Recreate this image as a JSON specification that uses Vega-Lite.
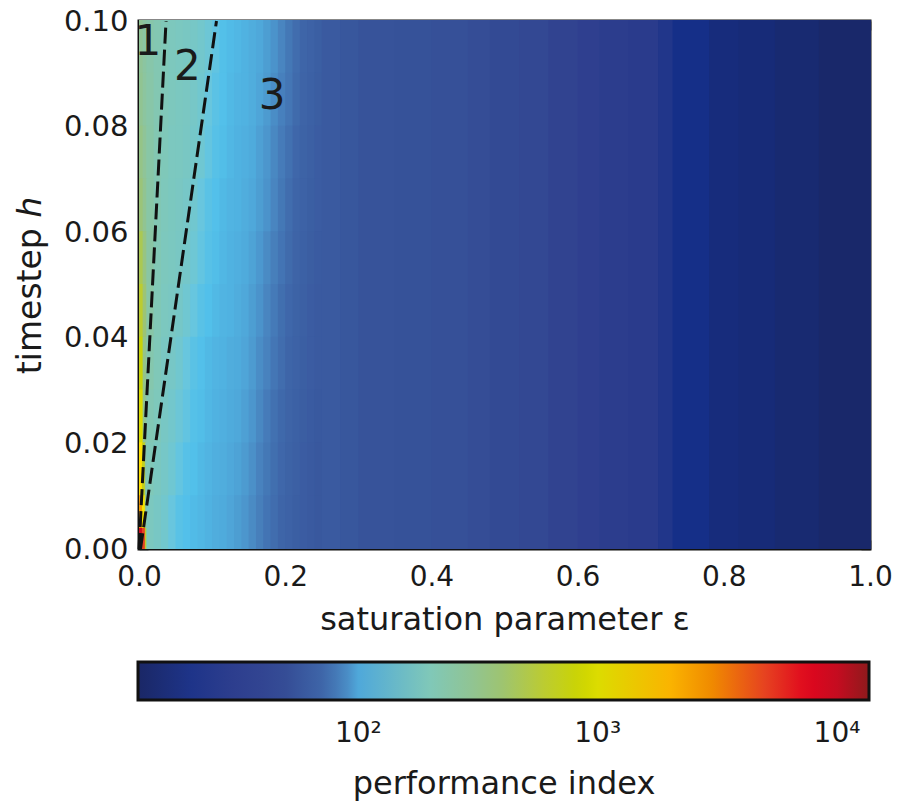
{
 "$schema": "https://vega.github.io/schema/vega-lite/v6.json",
 "width": 731, "height": 528,
 "autosize": {"type": "none"},
 "padding": {"left": 139, "top": 21, "right": 29, "bottom": 256},
 "background": "white",
 "config": {
  "font": "DejaVu Sans",
  "view": {"stroke": "#111111", "strokeWidth": 3},
  "axis": {"domain": false, "grid": false, "tickColor": "#111111", "tickWidth": 1.5, "tickSize": -9, "labelColor": "#1a1a1a", "titleColor": "#1a1a1a", "labelFontSize": 28, "titleFontSize": 32, "titleFontWeight": "normal", "labelFont": "DejaVu Sans", "titleFont": "DejaVu Sans"},
  "legend": {"orient": "none", "legendX": -1, "legendY": 641, "direction": "horizontal", "gradientLength": 731, "gradientThickness": 38, "gradientStrokeColor": "#111111", "gradientStrokeWidth": 3, "labelFontSize": 28, "labelColor": "#1a1a1a", "labelOverlap": false, "labelLimit": 0, "titleLimit": 0, "titleOrient": "bottom", "titleAnchor": "middle", "titleFontSize": 32, "titleFontWeight": "normal", "titleColor": "#1a1a1a", "titlePadding": 21}
 },
 "datasets": {
  "heat": [
   {"e0":0,"e1":0.005,"h0":0.09,"h1":0.1,"v":290},{"e0":0.005,"e1":0.01,"h0":0.09,"h1":0.1,"v":260},{"e0":0.01,"e1":0.02,"h0":0.09,"h1":0.1,"v":235},{"e0":0.02,"e1":0.03,"h0":0.09,"h1":0.1,"v":215},{"e0":0.03,"e1":0.04,"h0":0.09,"h1":0.1,"v":200},{"e0":0.04,"e1":0.05,"h0":0.09,"h1":0.1,"v":192},{"e0":0.05,"e1":0.06,"h0":0.09,"h1":0.1,"v":188},{"e0":0.06,"e1":0.07,"h0":0.09,"h1":0.1,"v":185},{"e0":0.07,"e1":0.08,"h0":0.09,"h1":0.1,"v":180},{"e0":0.08,"e1":0.09,"h0":0.09,"h1":0.1,"v":172},{"e0":0.09,"e1":0.1,"h0":0.09,"h1":0.1,"v":160},{"e0":0.1,"e1":0.11,"h0":0.09,"h1":0.1,"v":135},{"e0":0.11,"e1":0.12,"h0":0.09,"h1":0.1,"v":112},{"e0":0.12,"e1":0.13,"h0":0.09,"h1":0.1,"v":108},{"e0":0.13,"e1":0.14,"h0":0.09,"h1":0.1,"v":106},{"e0":0.14,"e1":0.15,"h0":0.09,"h1":0.1,"v":104},{"e0":0.15,"e1":0.16,"h0":0.09,"h1":0.1,"v":102},{"e0":0.16,"e1":0.17,"h0":0.09,"h1":0.1,"v":100},{"e0":0.17,"e1":0.18,"h0":0.09,"h1":0.1,"v":96},{"e0":0.18,"e1":0.19,"h0":0.09,"h1":0.1,"v":92},{"e0":0.19,"e1":0.2,"h0":0.09,"h1":0.1,"v":87},{"e0":0.2,"e1":0.21,"h0":0.09,"h1":0.1,"v":80},{"e0":0.21,"e1":0.22,"h0":0.09,"h1":0.1,"v":74},{"e0":0.22,"e1":0.23,"h0":0.09,"h1":0.1,"v":70},{"e0":0.23,"e1":0.24,"h0":0.09,"h1":0.1,"v":67},{"e0":0.24,"e1":0.25,"h0":0.09,"h1":0.1,"v":64},

   {"e0":0,"e1":0.005,"h0":0.08,"h1":0.09,"v":300},{"e0":0.005,"e1":0.01,"h0":0.08,"h1":0.09,"v":265},{"e0":0.01,"e1":0.02,"h0":0.08,"h1":0.09,"v":240},{"e0":0.02,"e1":0.03,"h0":0.08,"h1":0.09,"v":215},{"e0":0.03,"e1":0.04,"h0":0.08,"h1":0.09,"v":200},{"e0":0.04,"e1":0.05,"h0":0.08,"h1":0.09,"v":192},{"e0":0.05,"e1":0.06,"h0":0.08,"h1":0.09,"v":188},{"e0":0.06,"e1":0.07,"h0":0.08,"h1":0.09,"v":186},{"e0":0.07,"e1":0.08,"h0":0.08,"h1":0.09,"v":179},{"e0":0.08,"e1":0.09,"h0":0.08,"h1":0.09,"v":168},{"e0":0.09,"e1":0.1,"h0":0.08,"h1":0.09,"v":150},{"e0":0.1,"e1":0.11,"h0":0.08,"h1":0.09,"v":125},{"e0":0.11,"e1":0.12,"h0":0.08,"h1":0.09,"v":111},{"e0":0.12,"e1":0.13,"h0":0.08,"h1":0.09,"v":107},{"e0":0.13,"e1":0.14,"h0":0.08,"h1":0.09,"v":105},{"e0":0.14,"e1":0.15,"h0":0.08,"h1":0.09,"v":104},{"e0":0.15,"e1":0.16,"h0":0.08,"h1":0.09,"v":102},{"e0":0.16,"e1":0.17,"h0":0.08,"h1":0.09,"v":99},{"e0":0.17,"e1":0.18,"h0":0.08,"h1":0.09,"v":95},{"e0":0.18,"e1":0.19,"h0":0.08,"h1":0.09,"v":90},{"e0":0.19,"e1":0.2,"h0":0.08,"h1":0.09,"v":85},{"e0":0.2,"e1":0.21,"h0":0.08,"h1":0.09,"v":79},{"e0":0.21,"e1":0.22,"h0":0.08,"h1":0.09,"v":73},{"e0":0.22,"e1":0.23,"h0":0.08,"h1":0.09,"v":69},{"e0":0.23,"e1":0.24,"h0":0.08,"h1":0.09,"v":66},{"e0":0.24,"e1":0.25,"h0":0.08,"h1":0.09,"v":63},

   {"e0":0,"e1":0.005,"h0":0.07,"h1":0.08,"v":330},{"e0":0.005,"e1":0.01,"h0":0.07,"h1":0.08,"v":285},{"e0":0.01,"e1":0.02,"h0":0.07,"h1":0.08,"v":245},{"e0":0.02,"e1":0.03,"h0":0.07,"h1":0.08,"v":215},{"e0":0.03,"e1":0.04,"h0":0.07,"h1":0.08,"v":198},{"e0":0.04,"e1":0.05,"h0":0.07,"h1":0.08,"v":190},{"e0":0.05,"e1":0.06,"h0":0.07,"h1":0.08,"v":188},{"e0":0.06,"e1":0.07,"h0":0.07,"h1":0.08,"v":184},{"e0":0.07,"e1":0.08,"h0":0.07,"h1":0.08,"v":176},{"e0":0.08,"e1":0.09,"h0":0.07,"h1":0.08,"v":164},{"e0":0.09,"e1":0.1,"h0":0.07,"h1":0.08,"v":142},{"e0":0.1,"e1":0.11,"h0":0.07,"h1":0.08,"v":118},{"e0":0.11,"e1":0.12,"h0":0.07,"h1":0.08,"v":109},{"e0":0.12,"e1":0.13,"h0":0.07,"h1":0.08,"v":106},{"e0":0.13,"e1":0.14,"h0":0.07,"h1":0.08,"v":104},{"e0":0.14,"e1":0.15,"h0":0.07,"h1":0.08,"v":103},{"e0":0.15,"e1":0.16,"h0":0.07,"h1":0.08,"v":101},{"e0":0.16,"e1":0.17,"h0":0.07,"h1":0.08,"v":97},{"e0":0.17,"e1":0.18,"h0":0.07,"h1":0.08,"v":93},{"e0":0.18,"e1":0.19,"h0":0.07,"h1":0.08,"v":88},{"e0":0.19,"e1":0.2,"h0":0.07,"h1":0.08,"v":82},{"e0":0.2,"e1":0.21,"h0":0.07,"h1":0.08,"v":76},{"e0":0.21,"e1":0.22,"h0":0.07,"h1":0.08,"v":71},{"e0":0.22,"e1":0.23,"h0":0.07,"h1":0.08,"v":68},{"e0":0.23,"e1":0.24,"h0":0.07,"h1":0.08,"v":65},{"e0":0.24,"e1":0.25,"h0":0.07,"h1":0.08,"v":62},

   {"e0":0,"e1":0.005,"h0":0.06,"h1":0.07,"v":370},{"e0":0.005,"e1":0.01,"h0":0.06,"h1":0.07,"v":300},{"e0":0.01,"e1":0.02,"h0":0.06,"h1":0.07,"v":245},{"e0":0.02,"e1":0.03,"h0":0.06,"h1":0.07,"v":212},{"e0":0.03,"e1":0.04,"h0":0.06,"h1":0.07,"v":196},{"e0":0.04,"e1":0.05,"h0":0.06,"h1":0.07,"v":189},{"e0":0.05,"e1":0.06,"h0":0.06,"h1":0.07,"v":186},{"e0":0.06,"e1":0.07,"h0":0.06,"h1":0.07,"v":179},{"e0":0.07,"e1":0.08,"h0":0.06,"h1":0.07,"v":168},{"e0":0.08,"e1":0.09,"h0":0.06,"h1":0.07,"v":150},{"e0":0.09,"e1":0.1,"h0":0.06,"h1":0.07,"v":124},{"e0":0.1,"e1":0.11,"h0":0.06,"h1":0.07,"v":111},{"e0":0.11,"e1":0.12,"h0":0.06,"h1":0.07,"v":107},{"e0":0.12,"e1":0.13,"h0":0.06,"h1":0.07,"v":105},{"e0":0.13,"e1":0.14,"h0":0.06,"h1":0.07,"v":104},{"e0":0.14,"e1":0.15,"h0":0.06,"h1":0.07,"v":102},{"e0":0.15,"e1":0.16,"h0":0.06,"h1":0.07,"v":100},{"e0":0.16,"e1":0.17,"h0":0.06,"h1":0.07,"v":96},{"e0":0.17,"e1":0.18,"h0":0.06,"h1":0.07,"v":92},{"e0":0.18,"e1":0.19,"h0":0.06,"h1":0.07,"v":87},{"e0":0.19,"e1":0.2,"h0":0.06,"h1":0.07,"v":80},{"e0":0.2,"e1":0.21,"h0":0.06,"h1":0.07,"v":74},{"e0":0.21,"e1":0.22,"h0":0.06,"h1":0.07,"v":70},{"e0":0.22,"e1":0.23,"h0":0.06,"h1":0.07,"v":67},{"e0":0.23,"e1":0.24,"h0":0.06,"h1":0.07,"v":64},{"e0":0.24,"e1":0.25,"h0":0.06,"h1":0.07,"v":62},

   {"e0":0,"e1":0.005,"h0":0.05,"h1":0.06,"v":480},{"e0":0.005,"e1":0.01,"h0":0.05,"h1":0.06,"v":340},{"e0":0.01,"e1":0.02,"h0":0.05,"h1":0.06,"v":250},{"e0":0.02,"e1":0.03,"h0":0.05,"h1":0.06,"v":208},{"e0":0.03,"e1":0.04,"h0":0.05,"h1":0.06,"v":193},{"e0":0.04,"e1":0.05,"h0":0.05,"h1":0.06,"v":188},{"e0":0.05,"e1":0.06,"h0":0.05,"h1":0.06,"v":184},{"e0":0.06,"e1":0.07,"h0":0.05,"h1":0.06,"v":176},{"e0":0.07,"e1":0.08,"h0":0.05,"h1":0.06,"v":162},{"e0":0.08,"e1":0.09,"h0":0.05,"h1":0.06,"v":140},{"e0":0.09,"e1":0.1,"h0":0.05,"h1":0.06,"v":118},{"e0":0.1,"e1":0.11,"h0":0.05,"h1":0.06,"v":109},{"e0":0.11,"e1":0.12,"h0":0.05,"h1":0.06,"v":106},{"e0":0.12,"e1":0.13,"h0":0.05,"h1":0.06,"v":104},{"e0":0.13,"e1":0.14,"h0":0.05,"h1":0.06,"v":103},{"e0":0.14,"e1":0.15,"h0":0.05,"h1":0.06,"v":101},{"e0":0.15,"e1":0.16,"h0":0.05,"h1":0.06,"v":98},{"e0":0.16,"e1":0.17,"h0":0.05,"h1":0.06,"v":94},{"e0":0.17,"e1":0.18,"h0":0.05,"h1":0.06,"v":89},{"e0":0.18,"e1":0.19,"h0":0.05,"h1":0.06,"v":84},{"e0":0.19,"e1":0.2,"h0":0.05,"h1":0.06,"v":78},{"e0":0.2,"e1":0.21,"h0":0.05,"h1":0.06,"v":73},{"e0":0.21,"e1":0.22,"h0":0.05,"h1":0.06,"v":69},{"e0":0.22,"e1":0.23,"h0":0.05,"h1":0.06,"v":66},{"e0":0.23,"e1":0.24,"h0":0.05,"h1":0.06,"v":63},{"e0":0.24,"e1":0.25,"h0":0.05,"h1":0.06,"v":61},

   {"e0":0,"e1":0.005,"h0":0.04,"h1":0.05,"v":600},{"e0":0.005,"e1":0.01,"h0":0.04,"h1":0.05,"v":380},{"e0":0.01,"e1":0.02,"h0":0.04,"h1":0.05,"v":245},{"e0":0.02,"e1":0.03,"h0":0.04,"h1":0.05,"v":205},{"e0":0.03,"e1":0.04,"h0":0.04,"h1":0.05,"v":190},{"e0":0.04,"e1":0.05,"h0":0.04,"h1":0.05,"v":186},{"e0":0.05,"e1":0.06,"h0":0.04,"h1":0.05,"v":178},{"e0":0.06,"e1":0.07,"h0":0.04,"h1":0.05,"v":166},{"e0":0.07,"e1":0.08,"h0":0.04,"h1":0.05,"v":148},{"e0":0.08,"e1":0.09,"h0":0.04,"h1":0.05,"v":122},{"e0":0.09,"e1":0.1,"h0":0.04,"h1":0.05,"v":110},{"e0":0.1,"e1":0.11,"h0":0.04,"h1":0.05,"v":107},{"e0":0.11,"e1":0.12,"h0":0.04,"h1":0.05,"v":105},{"e0":0.12,"e1":0.13,"h0":0.04,"h1":0.05,"v":104},{"e0":0.13,"e1":0.14,"h0":0.04,"h1":0.05,"v":102},{"e0":0.14,"e1":0.15,"h0":0.04,"h1":0.05,"v":100},{"e0":0.15,"e1":0.16,"h0":0.04,"h1":0.05,"v":96},{"e0":0.16,"e1":0.17,"h0":0.04,"h1":0.05,"v":92},{"e0":0.17,"e1":0.18,"h0":0.04,"h1":0.05,"v":87},{"e0":0.18,"e1":0.19,"h0":0.04,"h1":0.05,"v":81},{"e0":0.19,"e1":0.2,"h0":0.04,"h1":0.05,"v":75},{"e0":0.2,"e1":0.21,"h0":0.04,"h1":0.05,"v":71},{"e0":0.21,"e1":0.22,"h0":0.04,"h1":0.05,"v":68},{"e0":0.22,"e1":0.23,"h0":0.04,"h1":0.05,"v":65},{"e0":0.23,"e1":0.24,"h0":0.04,"h1":0.05,"v":62},{"e0":0.24,"e1":0.25,"h0":0.04,"h1":0.05,"v":60},

   {"e0":0,"e1":0.005,"h0":0.03,"h1":0.04,"v":800},{"e0":0.005,"e1":0.01,"h0":0.03,"h1":0.04,"v":320},{"e0":0.01,"e1":0.02,"h0":0.03,"h1":0.04,"v":225},{"e0":0.02,"e1":0.03,"h0":0.03,"h1":0.04,"v":200},{"e0":0.03,"e1":0.04,"h0":0.03,"h1":0.04,"v":186},{"e0":0.04,"e1":0.05,"h0":0.03,"h1":0.04,"v":180},{"e0":0.05,"e1":0.06,"h0":0.03,"h1":0.04,"v":168},{"e0":0.06,"e1":0.07,"h0":0.03,"h1":0.04,"v":150},{"e0":0.07,"e1":0.08,"h0":0.03,"h1":0.04,"v":124},{"e0":0.08,"e1":0.09,"h0":0.03,"h1":0.04,"v":111},{"e0":0.09,"e1":0.1,"h0":0.03,"h1":0.04,"v":107},{"e0":0.1,"e1":0.11,"h0":0.03,"h1":0.04,"v":105},{"e0":0.11,"e1":0.12,"h0":0.03,"h1":0.04,"v":104},{"e0":0.12,"e1":0.13,"h0":0.03,"h1":0.04,"v":102},{"e0":0.13,"e1":0.14,"h0":0.03,"h1":0.04,"v":101},{"e0":0.14,"e1":0.15,"h0":0.03,"h1":0.04,"v":99},{"e0":0.15,"e1":0.16,"h0":0.03,"h1":0.04,"v":95},{"e0":0.16,"e1":0.17,"h0":0.03,"h1":0.04,"v":90},{"e0":0.17,"e1":0.18,"h0":0.03,"h1":0.04,"v":86},{"e0":0.18,"e1":0.19,"h0":0.03,"h1":0.04,"v":79},{"e0":0.19,"e1":0.2,"h0":0.03,"h1":0.04,"v":74},{"e0":0.2,"e1":0.21,"h0":0.03,"h1":0.04,"v":70},{"e0":0.21,"e1":0.22,"h0":0.03,"h1":0.04,"v":67},{"e0":0.22,"e1":0.23,"h0":0.03,"h1":0.04,"v":64},{"e0":0.23,"e1":0.24,"h0":0.03,"h1":0.04,"v":62},{"e0":0.24,"e1":0.25,"h0":0.03,"h1":0.04,"v":60},

   {"e0":0,"e1":0.005,"h0":0.02,"h1":0.03,"v":1000},{"e0":0.005,"e1":0.01,"h0":0.02,"h1":0.03,"v":300},{"e0":0.01,"e1":0.02,"h0":0.02,"h1":0.03,"v":210},{"e0":0.02,"e1":0.03,"h0":0.02,"h1":0.03,"v":195},{"e0":0.03,"e1":0.04,"h0":0.02,"h1":0.03,"v":182},{"e0":0.04,"e1":0.05,"h0":0.02,"h1":0.03,"v":172},{"e0":0.05,"e1":0.06,"h0":0.02,"h1":0.03,"v":158},{"e0":0.06,"e1":0.07,"h0":0.02,"h1":0.03,"v":138},{"e0":0.07,"e1":0.08,"h0":0.02,"h1":0.03,"v":115},{"e0":0.08,"e1":0.09,"h0":0.02,"h1":0.03,"v":109},{"e0":0.09,"e1":0.1,"h0":0.02,"h1":0.03,"v":106},{"e0":0.1,"e1":0.11,"h0":0.02,"h1":0.03,"v":104},{"e0":0.11,"e1":0.12,"h0":0.02,"h1":0.03,"v":103},{"e0":0.12,"e1":0.13,"h0":0.02,"h1":0.03,"v":101},{"e0":0.13,"e1":0.14,"h0":0.02,"h1":0.03,"v":100},{"e0":0.14,"e1":0.15,"h0":0.02,"h1":0.03,"v":97},{"e0":0.15,"e1":0.16,"h0":0.02,"h1":0.03,"v":93},{"e0":0.16,"e1":0.17,"h0":0.02,"h1":0.03,"v":88},{"e0":0.17,"e1":0.18,"h0":0.02,"h1":0.03,"v":82},{"e0":0.18,"e1":0.19,"h0":0.02,"h1":0.03,"v":76},{"e0":0.19,"e1":0.2,"h0":0.02,"h1":0.03,"v":72},{"e0":0.2,"e1":0.21,"h0":0.02,"h1":0.03,"v":69},{"e0":0.21,"e1":0.22,"h0":0.02,"h1":0.03,"v":66},{"e0":0.22,"e1":0.23,"h0":0.02,"h1":0.03,"v":63},{"e0":0.23,"e1":0.24,"h0":0.02,"h1":0.03,"v":61},{"e0":0.24,"e1":0.25,"h0":0.02,"h1":0.03,"v":59},

   {"e0":0,"e1":0.004,"h0":0.01,"h1":0.02,"v":1400},{"e0":0.004,"e1":0.008,"h0":0.01,"h1":0.02,"v":700},{"e0":0.008,"e1":0.01,"h0":0.01,"h1":0.02,"v":250},{"e0":0.01,"e1":0.02,"h0":0.01,"h1":0.02,"v":200},{"e0":0.02,"e1":0.03,"h0":0.01,"h1":0.02,"v":188},{"e0":0.03,"e1":0.04,"h0":0.01,"h1":0.02,"v":178},{"e0":0.04,"e1":0.05,"h0":0.01,"h1":0.02,"v":164},{"e0":0.05,"e1":0.06,"h0":0.01,"h1":0.02,"v":142},{"e0":0.06,"e1":0.07,"h0":0.01,"h1":0.02,"v":118},{"e0":0.07,"e1":0.08,"h0":0.01,"h1":0.02,"v":110},{"e0":0.08,"e1":0.09,"h0":0.01,"h1":0.02,"v":107},{"e0":0.09,"e1":0.1,"h0":0.01,"h1":0.02,"v":105},{"e0":0.1,"e1":0.11,"h0":0.01,"h1":0.02,"v":103},{"e0":0.11,"e1":0.12,"h0":0.01,"h1":0.02,"v":102},{"e0":0.12,"e1":0.13,"h0":0.01,"h1":0.02,"v":100},{"e0":0.13,"e1":0.14,"h0":0.01,"h1":0.02,"v":98},{"e0":0.14,"e1":0.15,"h0":0.01,"h1":0.02,"v":95},{"e0":0.15,"e1":0.16,"h0":0.01,"h1":0.02,"v":91},{"e0":0.16,"e1":0.17,"h0":0.01,"h1":0.02,"v":86},{"e0":0.17,"e1":0.18,"h0":0.01,"h1":0.02,"v":80},{"e0":0.18,"e1":0.19,"h0":0.01,"h1":0.02,"v":75},{"e0":0.19,"e1":0.2,"h0":0.01,"h1":0.02,"v":71},{"e0":0.2,"e1":0.21,"h0":0.01,"h1":0.02,"v":68},{"e0":0.21,"e1":0.22,"h0":0.01,"h1":0.02,"v":65},{"e0":0.22,"e1":0.23,"h0":0.01,"h1":0.02,"v":62},{"e0":0.23,"e1":0.24,"h0":0.01,"h1":0.02,"v":60},{"e0":0.24,"e1":0.25,"h0":0.01,"h1":0.02,"v":58},

   {"e0":0,"e1":0.004,"h0":0,"h1":0.004,"v":9000},{"e0":0.004,"e1":0.008,"h0":0,"h1":0.004,"v":5000},{"e0":0.008,"e1":0.01,"h0":0,"h1":0.004,"v":600},
   {"e0":0,"e1":0.004,"h0":0.004,"h1":0.01,"v":2500},{"e0":0.004,"e1":0.008,"h0":0.004,"h1":0.01,"v":1200},{"e0":0.008,"e1":0.01,"h0":0.004,"h1":0.01,"v":300},
   {"e0":0.01,"e1":0.02,"h0":0,"h1":0.01,"v":190},{"e0":0.02,"e1":0.03,"h0":0,"h1":0.01,"v":182},{"e0":0.03,"e1":0.04,"h0":0,"h1":0.01,"v":170},{"e0":0.04,"e1":0.05,"h0":0,"h1":0.01,"v":150},{"e0":0.05,"e1":0.06,"h0":0,"h1":0.01,"v":122},{"e0":0.06,"e1":0.07,"h0":0,"h1":0.01,"v":111},{"e0":0.07,"e1":0.08,"h0":0,"h1":0.01,"v":108},{"e0":0.08,"e1":0.09,"h0":0,"h1":0.01,"v":106},{"e0":0.09,"e1":0.1,"h0":0,"h1":0.01,"v":104},{"e0":0.1,"e1":0.11,"h0":0,"h1":0.01,"v":102},{"e0":0.11,"e1":0.12,"h0":0,"h1":0.01,"v":101},{"e0":0.12,"e1":0.13,"h0":0,"h1":0.01,"v":99},{"e0":0.13,"e1":0.14,"h0":0,"h1":0.01,"v":96},{"e0":0.14,"e1":0.15,"h0":0,"h1":0.01,"v":93},{"e0":0.15,"e1":0.16,"h0":0,"h1":0.01,"v":89},{"e0":0.16,"e1":0.17,"h0":0,"h1":0.01,"v":84},{"e0":0.17,"e1":0.18,"h0":0,"h1":0.01,"v":78},{"e0":0.18,"e1":0.19,"h0":0,"h1":0.01,"v":74},{"e0":0.19,"e1":0.2,"h0":0,"h1":0.01,"v":70},{"e0":0.2,"e1":0.21,"h0":0,"h1":0.01,"v":67},{"e0":0.21,"e1":0.22,"h0":0,"h1":0.01,"v":64},{"e0":0.22,"e1":0.23,"h0":0,"h1":0.01,"v":62},{"e0":0.23,"e1":0.24,"h0":0,"h1":0.01,"v":60},{"e0":0.24,"e1":0.25,"h0":0,"h1":0.01,"v":58},

   {"e0":0.25,"e1":0.275,"h0":0,"h1":0.1,"v":60},{"e0":0.275,"e1":0.3,"h0":0,"h1":0.1,"v":57},
   {"e0":0.3,"e1":0.35,"h0":0,"h1":0.1,"v":54},{"e0":0.35,"e1":0.4,"h0":0,"h1":0.1,"v":53},
   {"e0":0.4,"e1":0.45,"h0":0,"h1":0.1,"v":52},{"e0":0.45,"e1":0.48,"h0":0,"h1":0.1,"v":50},
   {"e0":0.48,"e1":0.52,"h0":0,"h1":0.1,"v":46},{"e0":0.52,"e1":0.56,"h0":0,"h1":0.1,"v":43},
   {"e0":0.56,"e1":0.6,"h0":0,"h1":0.1,"v":37},{"e0":0.6,"e1":0.63,"h0":0,"h1":0.1,"v":33},
   {"e0":0.63,"e1":0.67,"h0":0,"h1":0.1,"v":29},{"e0":0.67,"e1":0.71,"h0":0,"h1":0.1,"v":26},
   {"e0":0.71,"e1":0.73,"h0":0,"h1":0.1,"v":21},{"e0":0.73,"e1":0.78,"h0":0,"h1":0.1,"v":17},
   {"e0":0.78,"e1":0.82,"h0":0,"h1":0.1,"v":15},{"e0":0.82,"e1":0.87,"h0":0,"h1":0.1,"v":14.5},
   {"e0":0.87,"e1":0.93,"h0":0,"h1":0.1,"v":13.5},{"e0":0.93,"e1":1.0,"h0":0,"h1":0.1,"v":12.5}
  ],
  "lines": [
   {"id": 1, "e": 0, "h": 0}, {"id": 1, "e": 0.037, "h": 0.1},
   {"id": 2, "e": 0.002, "h": 0}, {"id": 2, "e": 0.106, "h": 0.1}
  ],
  "labels": [
   {"t": "1", "e": 0.012, "h": 0.096},
   {"t": "2", "e": 0.066, "h": 0.0913},
   {"t": "3", "e": 0.182, "h": 0.0858}
  ]
 },
 "layer": [
  {
   "data": {"name": "heat"},
   "mark": {"type": "rect", "x2Offset": 1, "y2Offset": -1},
   "encoding": {
    "x": {"field": "e0", "type": "quantitative", "scale": {"domain": [0, 1], "nice": false, "zero": false},
          "axis": {"orient": "bottom", "values": [0, 0.2, 0.4, 0.6, 0.8, 1], "format": ".1f", "title": "saturation parameter ε", "labelPadding": 23, "titleY": 80, "titleBaseline": "alphabetic", "labelFlush": false, "labelOverlap": false}},
    "x2": {"field": "e1"},
    "y": {"field": "h0", "type": "quantitative", "scale": {"domain": [0, 0.1], "nice": false, "zero": false},
          "axis": {"orient": "left", "values": [0, 0.02, 0.04, 0.06, 0.08, 0.1], "format": ".2f", "title": "timestep ℎ", "labelFontSize": 29, "titleFontSize": 33, "labelPadding": 20, "titleX": -99, "titleY": 264, "titleAngle": 270, "titleBaseline": "alphabetic", "titleAlign": "center", "labelFlush": false, "labelOverlap": false}},
    "y2": {"field": "h1"},
    "color": {"field": "v", "type": "quantitative",
      "scale": {"type": "log", "interpolate": "rgb",
        "domain": [12,17,24,34,49,70,86,100,110,150,200,280,400,600,850,1000,1300,2000,3000,5000,7500,10000,13600],
        "range": ["#1a2766","#152f88","#283a8b","#30408f","#344c95","#3e65a8","#4882be","#4fa8da","#52c0ea","#68c6de","#80c8b8","#8ec49a","#9ec470","#bccc30","#ccd400","#dcdc00","#ffe800","#fab400","#f08a00","#e64220","#e0061e","#c50c20","#8e1a1c"]},
      "legend": {"type": "gradient", "title": "performance index", "values": [100, 1000, 10000], "labelOffset": 20,
        "labelExpr": "datum.value == 100 ? '10²' : datum.value == 1000 ? '10³' : '10⁴'"}}
   }
  },
  {
   "data": {"name": "lines"},
   "mark": {"type": "line", "color": "#111111", "strokeWidth": 3, "strokeDash": [16, 6]},
   "encoding": {
    "x": {"field": "e", "type": "quantitative", "axis": {"orient": "top", "values": [0, 0.2, 0.4, 0.6, 0.8, 1], "labels": false, "title": null}},
    "y": {"field": "h", "type": "quantitative", "axis": {"orient": "right", "values": [0, 0.02, 0.04, 0.06, 0.08, 0.1], "labels": false, "title": null}},
    "detail": {"field": "id"},
    "order": {"field": "h"}
   }
  },
  {
   "data": {"name": "labels"},
   "mark": {"type": "text", "fontSize": 42, "color": "#1a1a1a", "font": "DejaVu Sans"},
   "encoding": {
    "x": {"field": "e", "type": "quantitative", "axis": null},
    "y": {"field": "h", "type": "quantitative", "axis": null},
    "text": {"field": "t"}
   }
  }
 ],
 "resolve": {"axis": {"x": "independent", "y": "independent"}}
}
